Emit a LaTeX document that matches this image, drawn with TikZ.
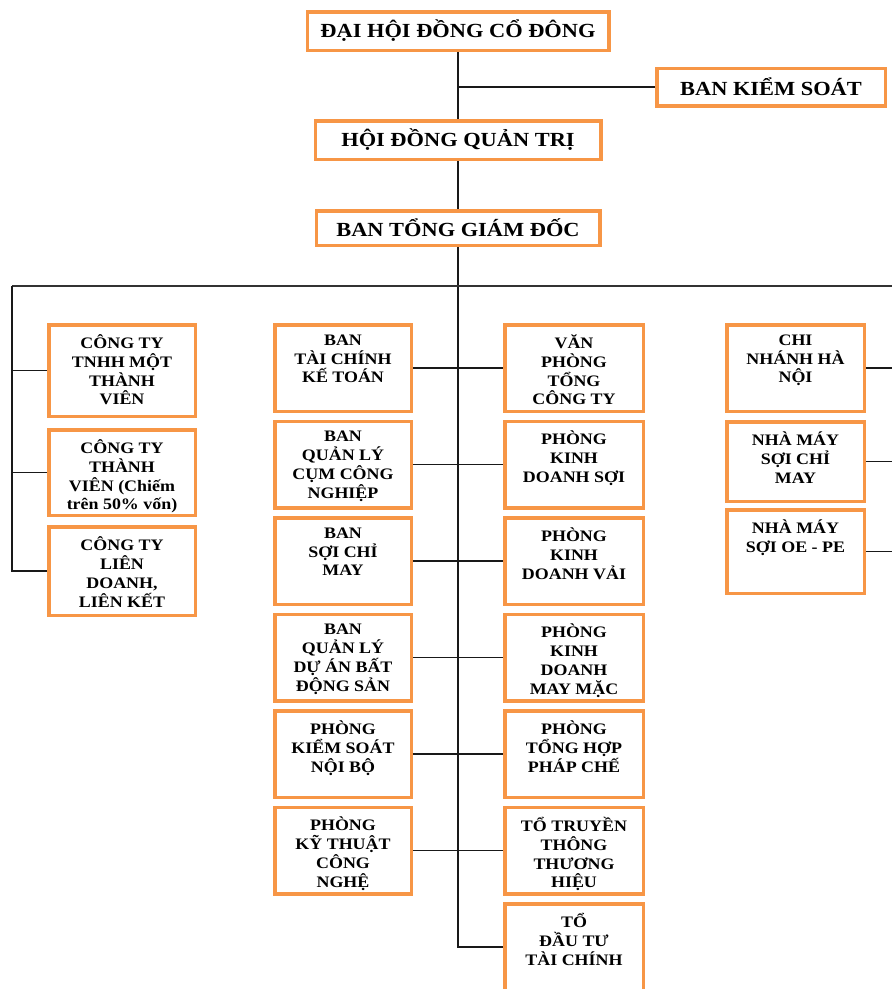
\documentclass[tikz,border=0pt]{standalone}
\usepackage{fontspec}
\setmainfont{Liberation Serif}
\newfontfamily\boxfont[FakeStretch=1.12]{Liberation Serif}
\usetikzlibrary{positioning}
\definecolor{boxorange}{HTML}{F79646}

\begin{document}
\begin{tikzpicture}
    [x=1pt, y=-1pt,
    topbox/.style={rectangle, draw=boxorange, line width=3.5pt, inner sep=0pt,
        font=\boxfont\bfseries\fontsize{20}{24}\selectfont},
    colbox/.style={rectangle, draw=boxorange, line width=3.5pt, inner sep=0pt,
        minimum height=86.5pt},
    coltext/.style={anchor=north, yshift=-9.5pt, inner sep=2pt, align=center,
        font=\boxfont\bfseries\fontsize{16}{18.8}\selectfont,
        execute at begin node=\strut},
    link/.style={line width=1.8pt, black!90},
    bus/.style={line width=2.4pt, black!80},]

    \useasboundingbox (0,0) rectangle (892,989);

    %Top nodes
    \node[topbox, minimum width=301.5pt, minimum height=38.5pt](DH) at (458,31){ĐẠI HỘI ĐỒNG CỔ ĐÔNG};
    \node[topbox, minimum width=228.5pt, minimum height=37.5pt](BKS) at (771,87){BAN KIỂM SOÁT};
    \node[topbox, minimum width=285.5pt, minimum height=38.5pt](HD) at (458,140){HỘI ĐỒNG QUẢN TRỊ};
    \node[topbox, minimum width=283.5pt, minimum height=34.5pt](TGD) at (458,228){BAN TỔNG GIÁM ĐỐC};

    %Member companies
    \node[colbox, minimum width=146.5pt, minimum height=91.5pt,
        label={[coltext]north:{CÔNG TY\\TNHH MỘT\\THÀNH\\VIÊN}}](A1) at (122,370.5){};
    \node[colbox, minimum width=146.5pt, minimum height=85.5pt,
        label={[coltext]north:{CÔNG TY\\THÀNH\\VIÊN (Chiếm\\trên 50\% vốn)}}](A2)[below=10pt of A1]{};
    \node[colbox, minimum width=146.5pt, minimum height=88.5pt,
        label={[coltext]north:{CÔNG TY\\LIÊN\\DOANH,\\LIÊN KẾT}}](A3)[below=8pt of A2]{};

    %Boards
    \node[colbox, minimum width=136.5pt,
        label={[coltext]north:{BAN\\TÀI CHÍNH\\KẾ TOÁN}}](B1) at (343,368){};
    \node[colbox, minimum width=136.5pt,
        label={[coltext]north:{BAN\\QUẢN LÝ\\CỤM CÔNG\\NGHIỆP}}](B2)[below=6.5pt of B1]{};
    \node[colbox, minimum width=136.5pt,
        label={[coltext]north:{BAN\\SỢI CHỈ\\MAY}}](B3)[below=6.5pt of B2]{};
    \node[colbox, minimum width=136.5pt,
        label={[coltext]north:{BAN\\QUẢN LÝ\\DỰ ÁN BẤT\\ĐỘNG SẢN}}](B4)[below=6.5pt of B3]{};
    \node[colbox, minimum width=136.5pt,
        label={[coltext]north:{PHÒNG\\KIỂM SOÁT\\NỘI BỘ}}](B5)[below=6.5pt of B4]{};
    \node[colbox, minimum width=136.5pt,
        label={[coltext]north:{PHÒNG\\KỸ THUẬT\\CÔNG\\NGHỆ}}](B6)[below=6.5pt of B5]{};

    %Offices
    \node[colbox, minimum width=138.5pt,
        label={[coltext]north:{VĂN\\PHÒNG\\TỔNG\\CÔNG TY}}](C1) at (574,368){};
    \node[colbox, minimum width=138.5pt,
        label={[coltext]north:{PHÒNG\\KINH\\DOANH SỢI}}](C2)[below=6.5pt of C1]{};
    \node[colbox, minimum width=138.5pt,
        label={[coltext]north:{PHÒNG\\KINH\\DOANH VẢI}}](C3)[below=6.5pt of C2]{};
    \node[colbox, minimum width=138.5pt,
        label={[coltext]north:{PHÒNG\\KINH\\DOANH\\MAY MẶC}}](C4)[below=6.5pt of C3]{};
    \node[colbox, minimum width=138.5pt,
        label={[coltext]north:{PHÒNG\\TỔNG HỢP\\PHÁP CHẾ}}](C5)[below=6.5pt of C4]{};
    \node[colbox, minimum width=138.5pt,
        label={[coltext]north:{TỔ TRUYỀN\\THÔNG\\THƯƠNG\\HIỆU}}](C6)[below=6.5pt of C5]{};
    \node[colbox, minimum width=138.5pt,
        label={[coltext]north:{TỔ\\ĐẦU TƯ\\TÀI CHÍNH}}](C7)[below=6.5pt of C6]{};

    %Branches
    \node[colbox, minimum width=137.5pt,
        label={[coltext]north:{CHI\\NHÁNH HÀ\\NỘI}}](D1) at (795.5,368){};
    \node[colbox, minimum width=137.5pt, minimum height=79.5pt,
        label={[coltext]north:{NHÀ MÁY\\SỢI CHỈ\\MAY}}](D2)[below=7pt of D1]{};
    \node[colbox, minimum width=137.5pt, minimum height=83.5pt,
        label={[coltext]north:{NHÀ MÁY\\SỢI OE - PE}}](D3)[below=5pt of D2]{};

    \coordinate(L) at (12,286);
    \coordinate(R) at (892,286);

    %Lines
    \draw[link](DH.south)--(HD.north);
    \draw[link](DH.south |- BKS.west)--(BKS.west);
    \draw[link](HD.south)--(TGD.north);
    \draw[link](TGD.south)--(TGD.south |- C7.west)--(C7.west);
    \draw[bus](L)--(R);

    \draw[link](L)--(L |- A3.west)--(A3.west);
    \draw[link](L |- A1.west)--(A1.west);
    \draw[link](L |- A2.west)--(A2.west);

    \foreach \i in {1,...,6}
        \draw[link](B\i.east)--(C\i.west);

    \foreach \i in {1,2,3}
        \draw[link](D\i.east)--(D\i.east -| R);
\end{tikzpicture}
\end{document}
